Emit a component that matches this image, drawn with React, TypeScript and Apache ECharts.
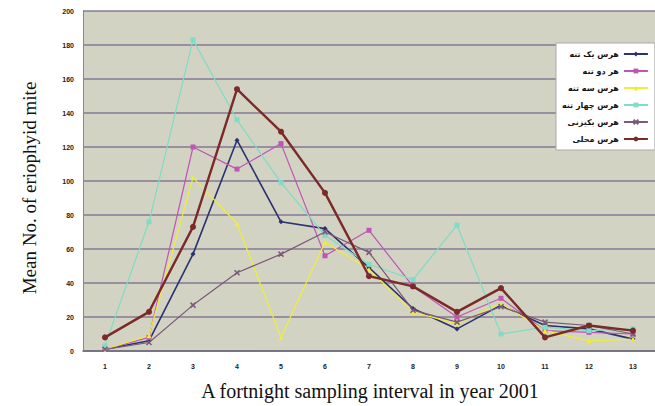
import React, { useEffect, useRef } from "react";
import * as echarts from "echarts";

const categories = ["1", "2", "3", "4", "5", "6", "7", "8", "9", "10", "11", "12", "13"];
const seriesNames = ["هرس یک تنه", "هر دو تنه", "هرس سه تنه", "هرس چهار تنه", "هرس بکیزنی", "هرس محلی"];
const oneTrunk = [1, 6, 57, 124, 76, 72, 49, 25, 13, 27, 15, 13, 7];
const twoTrunk = [1, 8, 120, 107, 122, 56, 71, 38, 20, 31, 12, 11, 10];
const threeTrunk = [1, 9, 102, 75, 8, 64, 48, 23, 16, 28, 12, 6, 7];
const fourTrunk = [3, 76, 183, 136, 99, 68, 51, 42, 74, 10, 14, 12, 13];
const fifthType = [1, 5, 27, 46, 57, 70, 58, 24, 17, 26, 17, 15, 10];
const localType = [8, 23, 73, 154, 129, 93, 44, 38, 23, 37, 8, 15, 12];
const yTicks = { min: 0, max: 200, interval: 20 };

const seriesValues = [oneTrunk, twoTrunk, threeTrunk, fourTrunk, fifthType, localType];
const colors = ["#2b3270", "#c055b5", "#eeee3a", "#7fdcc6", "#7a5a78", "#7a2a28"];
const symbols = [
  "diamond",
  "rect",
  "triangle",
  "rect",
  "path://M0,0L10,10M10,0L0,10",
  "circle",
];

export default function App() {
  const ref = useRef<HTMLDivElement>(null);
  useEffect(() => {
    if (!ref.current) return;
    const chart = echarts.init(ref.current, null, { renderer: "svg" });
    chart.setOption({
      animation: false,
      backgroundColor: "#ffffff",
      grid: { left: 83, top: 11, width: 577, height: 340, backgroundColor: "#d2d3c3", show: true, borderWidth: 0 },
      legend: {
        orient: "vertical",
        left: 556,
        top: 43,
        width: 94,
        align: "right",
        itemWidth: 24,
        itemHeight: 6,
        itemGap: 9,
        padding: [7, 6, 7, 6],
        backgroundColor: "#ffffff",
        borderColor: "#aaaaaa",
        borderWidth: 1,
        textStyle: { fontFamily: "DejaVu Sans", fontWeight: "bold", fontSize: 8, color: "#111" },
        data: seriesNames,
      },
      xAxis: {
        type: "category",
        data: categories,
        boundaryGap: true,
        axisLine: { lineStyle: { color: "#6e6a7a", width: 1.5 } },
        axisTick: { show: false },
        axisLabel: { fontFamily: "Liberation Sans", fontWeight: "bold", fontSize: 7, color: "#222", margin: 12 },
        splitLine: { show: false },
      },
      yAxis: {
        type: "value",
        min: yTicks.min,
        max: yTicks.max,
        interval: yTicks.interval,
        axisLine: { show: true, lineStyle: { color: "#8a8494", width: 1 } },
        axisTick: { show: false },
        axisLabel: { fontFamily: "Liberation Sans", fontWeight: "bold", fontSize: 7, color: "#222", margin: 9 },
        splitLine: { lineStyle: { color: "#857a94", width: 1.6 } },
      },
      graphic: [
        {
          type: "text",
          x: 29,
          y: 188,
          rotation: Math.PI / 2,
          style: {
            text: "Mean No. of eriophyid mite",
            font: "19px 'Liberation Serif'",
            fill: "#111",
            align: "center",
            verticalAlign: "middle",
          },
        },
        {
          type: "text",
          x: 370,
          y: 391,
          style: {
            text: "A fortnight sampling interval in year 2001",
            font: "20px 'Liberation Serif'",
            fill: "#111",
            align: "center",
            verticalAlign: "middle",
          },
        },
      ],
      series: seriesNames.map((name, i) => ({
        name,
        type: "line",
        data: seriesValues[i],
        symbol: symbols[i],
        symbolSize: i === 5 ? 6 : 5,
        lineStyle: { color: colors[i], width: i === 5 ? 2.4 : i === 0 ? 1.6 : 1.2 },
        itemStyle: {
          color: colors[i],
          borderColor: colors[i],
          borderWidth: i === 4 ? 1.5 : 0,
        },
        z: i === 5 ? 3 : 2,
      })),
    });
    return () => chart.dispose();
  }, []);
  return <div ref={ref} style={{ width: 655, height: 406, position: "absolute", left: 0, top: 0 }} />;
}
